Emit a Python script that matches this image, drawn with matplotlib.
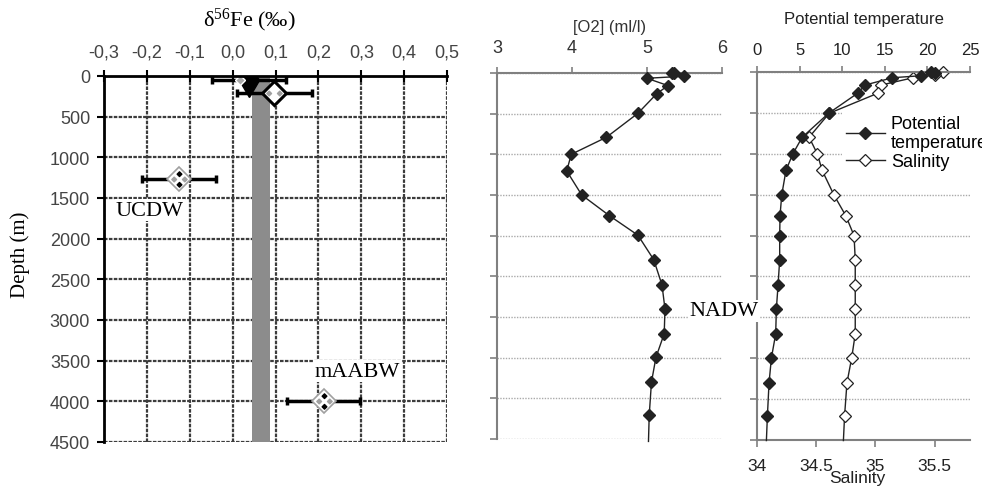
import matplotlib.pyplot as plt
from matplotlib.lines import Line2D
from matplotlib.path import Path

plt.rcParams['font.family'] = ['Liberation Sans', 'DejaVu Sans']

# ---- donnees panneau 1 : d56Fe ----
fe_ticks = [-0.3, -0.2, -0.1, 0.0, 0.1, 0.2, 0.3, 0.4, 0.5]
fe_ticklabels = ['-0,3', '-0,2', '-0,1', '0,0', '0,1', '0,2', '0,3', '0,4', '0,5']
depth_ticks = [0, 500, 1000, 1500, 2000, 2500, 3000, 3500, 4000, 4500]

fe_depth = [45, 210, 1270, 4000]
fe_mean = [0.038, 0.097, -0.125, 0.212]
fe_err = [0.086, 0.087, 0.086, 0.086]
fe_surf_gray = 0.018          # petit losange gris du premier point
bar_lo, bar_hi = 0.045, 0.087  # bande grise (moyenne)

# ---- donnees panneau 2 : O2 ----
o2_depth = [0, 5, 40, 65, 155, 255, 495, 790, 1000, 1205, 1500, 1755, 1995,
            2295, 2605, 2900, 3205, 3495, 3800, 4205, 4530]
o2 = [5.33, 5.36, 5.49, 5.00, 5.28, 5.13, 4.88, 4.46, 3.99, 3.93, 4.13, 4.50,
      4.88, 5.09, 5.20, 5.24, 5.23, 5.12, 5.06, 5.03, 5.02]

# ---- donnees panneau 3 : temperature / salinite ----
t_depth = [0, 15, 45, 70, 159, 260, 505, 798, 1002, 1202, 1504, 1757, 2001,
           2295, 2604, 2897, 3203, 3496, 3802, 4201, 4507]
temp = [20.4, 20.9, 19.3, 15.9, 12.7, 11.8, 8.4, 5.3, 4.2, 3.4, 2.9, 2.7,
        2.66, 2.66, 2.47, 2.27, 2.19, 1.69, 1.41, 1.22, 1.1]
sal_depth = [4, 37, 70, 159, 260, 505, 798, 1002, 1202, 1504, 1757, 2001,
             2295, 2604, 2897, 3203, 3496, 3802, 4201, 4507]
sal = [35.57, 35.50, 35.32, 35.05, 35.02, 34.61, 34.44, 34.51, 34.55, 34.65,
       34.75, 34.82, 34.83, 34.83, 34.83, 34.83, 34.80, 34.76, 34.74, 34.73]
temp_ticks = [0, 5, 10, 15, 20, 25]
sal_ticks = [34, 34.5, 35, 35.5]
sal_ticklabels = ['34', '34.5', '35', '35.5']

fig = plt.figure(figsize=(9.82, 4.89), dpi=100)

# marqueurs composes (losanges noirs haut/bas, gris gauche/droite)
d = 0.22
def losange(cx, cy):
    return [(cx, cy + d), (cx + d, cy), (cx, cy - d), (cx - d, cy), (cx, cy + d)]
vb = losange(0, 0.5) + losange(0, -0.5)
vg = losange(0.5, 0) + losange(-0.5, 0)
codes = ([Path.MOVETO] + [Path.LINETO] * 3 + [Path.CLOSEPOLY]) * 2
m_noir = Path(vb, codes)
m_gris = Path(vg, codes)

# ================= panneau 1 =================
ax1 = fig.add_axes([0.1059, 0.0941, 0.3493, 0.7485])
ax1.set_xlim(-0.3, 0.5)
ax1.set_ylim(4500, 0)
ax1.xaxis.tick_top()
ax1.set_xticks(fe_ticks)
ax1.set_xticklabels(fe_ticklabels)
ax1.set_yticks(depth_ticks)
ax1.grid(True, color='#3c3c3c', lw=1.6, ls=(0, (1.6, 0.6)))
ax1.set_axisbelow(True)
for s in ['right', 'bottom']:
    ax1.spines[s].set_visible(False)
for s in ['left', 'top']:
    ax1.spines[s].set_linewidth(2)
    ax1.spines[s].set_zorder(5)
ax1.tick_params(axis='x', direction='inout', length=8, width=1.5,
                labelcolor='#444444', labelsize=13, pad=7)
ax1.tick_params(axis='y', direction='out', length=5, width=1.5,
                labelcolor='#444444', labelsize=13, pad=5)

ax1.fill_betweenx([0, 4500], bar_lo, bar_hi, color='#8c8c8c', lw=0, zorder=2)
ax1.errorbar(fe_mean, fe_depth, xerr=fe_err, fmt='none', ecolor='black',
             elinewidth=2.5, capsize=3, capthick=2.5, zorder=3)

# premier point : losange noir + petit gris
ax1.plot(fe_mean[0], fe_depth[0], marker='d', ms=17, color='black', zorder=4)
ax1.plot(fe_surf_gray, fe_depth[0], marker='D', ms=5, color='#a8a8a8',
         mec='white', mew=1, zorder=4)
# autres points
for i in range(1, 4):
    ec = 'black' if i == 1 else '#a0a0a0'
    lw = 2.2 if i == 1 else 1.2
    ax1.plot(fe_mean[i], fe_depth[i], marker='D', ms=12, mfc='white', mec=ec,
             mew=lw, zorder=4)
    ax1.plot(fe_mean[i], fe_depth[i], marker=m_gris, ms=11, color='#a0a0a0',
             lw=0, zorder=5)
    if i > 1:
        ax1.plot(fe_mean[i], fe_depth[i], marker=m_noir, ms=11, color='black',
                 lw=0, zorder=5)

ax1.text(-0.272, 1650, 'UCDW', family='Liberation Serif', fontsize=16,
         ha='left', va='center', zorder=6,
         bbox=dict(fc='white', ec='none', pad=1))
ax1.text(0.29, 3630, 'mAABW', family='Liberation Serif', fontsize=16,
         ha='center', va='center', zorder=6,
         bbox=dict(fc='white', ec='none', pad=1))

fig.text(249 / 982, 1 - 20 / 489, r'$\mathregular{\delta^{56}}$Fe (‰)',
         family='Liberation Serif', fontsize=16, ha='center', va='center')
fig.text(20 / 982, 1 - 255 / 489, 'Depth (m)', family='Liberation Serif',
         fontsize=15, rotation=90, ha='center', va='center')

# ================= panneau 2 =================
gris = '#808080'
ax2 = fig.add_axes([0.5061, 0.1002, 0.2291, 0.7485])
ax2.set_xlim(3, 6)
ax2.set_ylim(4500, 0)
ax2.xaxis.tick_top()
ax2.set_xticks([3, 4, 5, 6])
ax2.set_yticks(depth_ticks)
ax2.set_yticklabels([])
ax2.grid(True, axis='y', color='#aaaaaa', lw=1, ls=(0, (1, 1)))
ax2.set_axisbelow(True)
for s in ['right', 'bottom']:
    ax2.spines[s].set_visible(False)
for s in ['left', 'top']:
    ax2.spines[s].set_color(gris)
    ax2.spines[s].set_linewidth(1.5)
ax2.tick_params(axis='x', direction='out', length=4, width=1.2, color=gris,
                labelcolor='#333333', labelsize=13, pad=8)
ax2.tick_params(axis='y', direction='out', length=5, width=1.2, color=gris)
ax2.plot(o2, o2_depth, color='#222222', lw=1, marker='D', ms=6,
         markevery=slice(0, len(o2) - 1), clip_on=False, zorder=3)
ax2.set_title('[O2] (ml/l)', fontsize=12, color='#333333', pad=30)

fig.text(724 / 982, 1 - 312 / 489, 'NADW', family='Liberation Serif',
         fontsize=16, ha='center', va='center', zorder=10,
         bbox=dict(fc='white', ec='none', pad=1))

# ================= panneau 3 =================
ax3 = fig.add_axes([0.7709, 0.0982, 0.2169, 0.7525])
ax3s = ax3.twiny()

ax3.set_xlim(0, 25)
ax3.set_ylim(4500, 0)
ax3.set_yticks(depth_ticks)
ax3.set_yticklabels([])
ax3.grid(True, axis='y', color='#aaaaaa', lw=1, ls=(0, (1, 1)))
ax3.set_axisbelow(True)
ax3.spines['right'].set_visible(False)
ax3.spines['top'].set_visible(False)
ax3.spines['left'].set_color(gris)
ax3.spines['left'].set_linewidth(1.5)
ax3.spines['bottom'].set_color(gris)
ax3.spines['bottom'].set_linewidth(1.5)
ax3.tick_params(axis='y', direction='out', length=5, width=1.2, color=gris)
# echelle salinite en bas
ax3.set_xlim(34, 35.8)
ax3.xaxis.set_ticks_position('bottom')
ax3.set_xticks(sal_ticks)
ax3.set_xticklabels(sal_ticklabels)
ax3.tick_params(axis='x', direction='out', length=5, width=1.2, color=gris,
                labelcolor='#222222', labelsize=12.5, pad=8)

# echelle temperature en haut
ax3s.set_xlim(0, 25)
ax3s.xaxis.set_ticks_position('top')
ax3s.set_xticks(temp_ticks)
for s in ['right', 'bottom', 'left']:
    ax3s.spines[s].set_visible(False)
ax3s.spines['top'].set_color(gris)
ax3s.spines['top'].set_linewidth(1.5)
ax3s.tick_params(axis='x', direction='out', length=4, width=1.2, color=gris,
                 labelcolor='#222222', labelsize=12, pad=7)
ax3s.set_title('Potential temperature', fontsize=12, color='#222222', pad=35)

ax3s.plot(temp, t_depth, color='#222222', lw=1, marker='D', ms=6,
          markevery=slice(0, len(temp) - 1), clip_on=False, zorder=3)
ax3.plot(sal, sal_depth, color='#222222', lw=1, marker='D', ms=6.5,
         mfc='white', mec='#222222', mew=0.9,
         markevery=slice(0, len(sal) - 1), clip_on=False, zorder=3)

poignees = [Line2D([], [], color='#222222', lw=1, marker='D', ms=6),
            Line2D([], [], color='#222222', lw=1, marker='D', ms=6.5,
                   mfc='white', mec='#222222', mew=0.9)]
leg = ax3s.legend(poignees, ['Potential\ntemperature', 'Salinity'],
                  loc='upper left', bbox_to_anchor=(842 / 982, 1 - 112 / 489),
                  bbox_transform=fig.transFigure, fontsize=13,
                  frameon=True, framealpha=1, edgecolor='none',
                  fancybox=False, handlelength=2.2, handletextpad=0.3,
                  labelspacing=0.1, borderpad=0.2, borderaxespad=0)
leg.set_zorder(8)

fig.text(857 / 982, 1 - 479 / 489, 'Salinity', fontsize=12.5,
         color='#222222', ha='center', va='center')

plt.savefig('out.png', dpi=100)
